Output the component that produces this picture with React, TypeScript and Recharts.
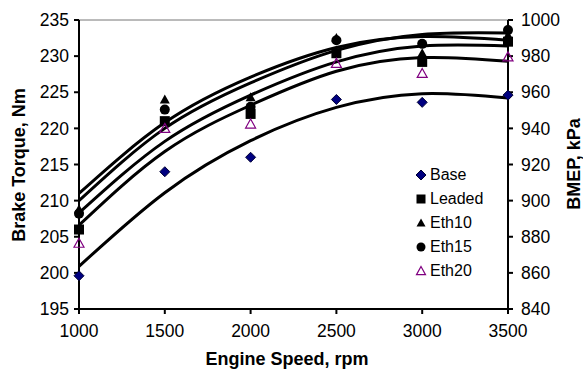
import React from 'react';
import {
  ComposedChart,
  Scatter,
  Line,
  XAxis,
  YAxis,
  Legend,
  ReferenceLine,
} from 'recharts';

const speeds = [1000, 1500, 2000, 2500, 3000, 3500];

// measured points, Nm
const base = [199.6, 214, 216, 224, 223.6, 224.6];
const leaded = [206, 221, 222, 230.4, 229.2, 232];
const eth10 = [208.8, 224, 224.3, 232.5, 230.4, 232.9];
const eth15 = [208.2, 222.6, 223, 232.2, 231.7, 233.6];
const eth20 = [204.1, 220, 220.6, 229, 227.6, 229.9];

// trend curves at each speed
const baseTrend = [200.9, 211.1, 218.3, 222.9, 224.8, 224.2];
const leadedTrend = [208.3, 218.2, 224.6, 229.2, 231.4, 231.4];
const eth10Trend = [211.0, 220.8, 227.1, 231.2, 232.7, 232.2];
const eth15Trend = [210.0, 220.0, 226.3, 230.8, 233.0, 233.2];
const eth20Trend = [206.6, 216.8, 223.2, 227.9, 229.8, 229.3];

const torqueTicks = [195, 200, 205, 210, 215, 220, 225, 230, 235];
const bmepTicks = [840, 860, 880, 900, 920, 940, 960, 980, 1000];

const data = speeds.map((speed, i) => ({
  speed,
  base: base[i],
  leaded: leaded[i],
  eth10: eth10[i],
  eth15: eth15[i],
  eth20: eth20[i],
  baseTrend: baseTrend[i],
  leadedTrend: leadedTrend[i],
  eth10Trend: eth10Trend[i],
  eth15Trend: eth15Trend[i],
  eth20Trend: eth20Trend[i],
}));

const FONT = 'Arial, "Liberation Sans", sans-serif';

const Diamond = ({ cx, cy, r = 5 }: any) => (
  <polygon
    points={`${cx},${cy - r} ${cx + r},${cy} ${cx},${cy + r} ${cx - r},${cy}`}
    fill="#000080"
    stroke="#000033"
    strokeWidth={1}
  />
);
const Square = ({ cx, cy, r = 5 }: any) => (
  <rect x={cx - r} y={cy - r} width={r * 2} height={r * 2} fill="#000" />
);
const Tri = ({ cx, cy, r = 5 }: any) => (
  <polygon
    points={`${cx},${cy - r} ${cx + r},${cy + r * 0.8} ${cx - r},${cy + r * 0.8}`}
    fill="#000"
  />
);
const Dot = ({ cx, cy, r = 5 }: any) => <circle cx={cx} cy={cy} r={r} fill="#000" />;
const OpenTri = ({ cx, cy, r = 5 }: any) => (
  <polygon
    points={`${cx},${cy - r} ${cx + r},${cy + r * 0.8} ${cx - r},${cy + r * 0.8}`}
    fill="none"
    stroke="#800080"
    strokeWidth={1.2}
  />
);

const series = [
  { key: 'base', name: 'Base', Shape: Diamond },
  { key: 'leaded', name: 'Leaded', Shape: Square },
  { key: 'eth10', name: 'Eth10', Shape: Tri },
  { key: 'eth15', name: 'Eth15', Shape: Dot },
  { key: 'eth20', name: 'Eth20', Shape: OpenTri },
];

const renderLegend = () => (
  <div style={{ fontFamily: FONT, fontSize: 16, color: '#000' }}>
    {series.map(({ key, name, Shape }) => (
      <div key={key} style={{ height: 24, display: 'flex', alignItems: 'center' }}>
        <svg width={14} height={14} style={{ marginLeft: 1 }}>
          <Shape cx={7} cy={7} r={key === 'base' ? 5 : 4.5} />
        </svg>
        <span style={{ marginLeft: 2 }}>{name}</span>
      </div>
    ))}
  </div>
);

const tickStyle = { fontFamily: FONT, fontSize: 17.5, fill: '#000' };

const titleStyle: React.CSSProperties = {
  position: 'absolute',
  whiteSpace: 'nowrap',
  fontFamily: FONT,
  fontSize: 18,
  fontWeight: 'bold',
  lineHeight: '20px',
};

export default function App() {
  return (
    <div style={{ position: 'absolute', left: 0, top: 0, width: 583, height: 371 }}>
      <ComposedChart
        width={583}
        height={371}
        data={data}
        margin={{ top: 20, right: 0, bottom: 0, left: 0 }}
      >
        <XAxis
          dataKey="speed"
          type="number"
          domain={[1000, 3500]}
          ticks={speeds}
          height={62}
          tick={tickStyle}
          tickSize={5}
          tickMargin={11}
          stroke="#000"
          strokeWidth={2}
        />
        <YAxis
          yAxisId="left"
          type="number"
          domain={[195, 235]}
          ticks={torqueTicks}
          width={79}
          tick={tickStyle}
          tickSize={5}
          tickMargin={5}
          stroke="#000"
          strokeWidth={2}
          allowDataOverflow
        />
        <YAxis
          yAxisId="right"
          orientation="right"
          type="number"
          domain={[840, 1000]}
          ticks={bmepTicks}
          width={75}
          tick={tickStyle}
          tickSize={5}
          tickMargin={8}
          stroke="#000"
          strokeWidth={2}
          allowDataOverflow
        />
        <ReferenceLine yAxisId="left" y={235} stroke="#777" strokeWidth={1} />
        {series.map(({ key, name, Shape }) => (
          <Scatter
            key={key}
            yAxisId="left"
            dataKey={key}
            name={name}
            isAnimationActive={false}
            shape={(p: any) => <Shape cx={p.cx} cy={p.cy} />}
          />
        ))}
        {series.map(({ key }) => (
          <Line
            key={key + 'Trend'}
            yAxisId="left"
            dataKey={key + 'Trend'}
            type="natural"
            stroke="#000"
            strokeWidth={3}
            dot={false}
            activeDot={false}
            legendType="none"
            isAnimationActive={false}
          />
        ))}
        <Legend
          layout="horizontal"
          verticalAlign="middle"
          align="center"
          content={renderLegend}
          wrapperStyle={{ left: 413, top: 163, width: 100 }}
        />
      </ComposedChart>
      <div
        style={{
          ...titleStyle,
          left: 19,
          top: 165,
          transform: 'translate(-50%, -50%) rotate(-90deg)',
        }}
      >
        Brake Torque, Nm
      </div>
      <div
        style={{
          ...titleStyle,
          left: 574,
          top: 164,
          transform: 'translate(-50%, -50%) rotate(-90deg)',
        }}
      >
        BMEP, kPa
      </div>
      <div
        style={{
          ...titleStyle,
          left: 287,
          top: 359,
          transform: 'translate(-50%, -50%)',
        }}
      >
        Engine Speed, rpm
      </div>
    </div>
  );
}
